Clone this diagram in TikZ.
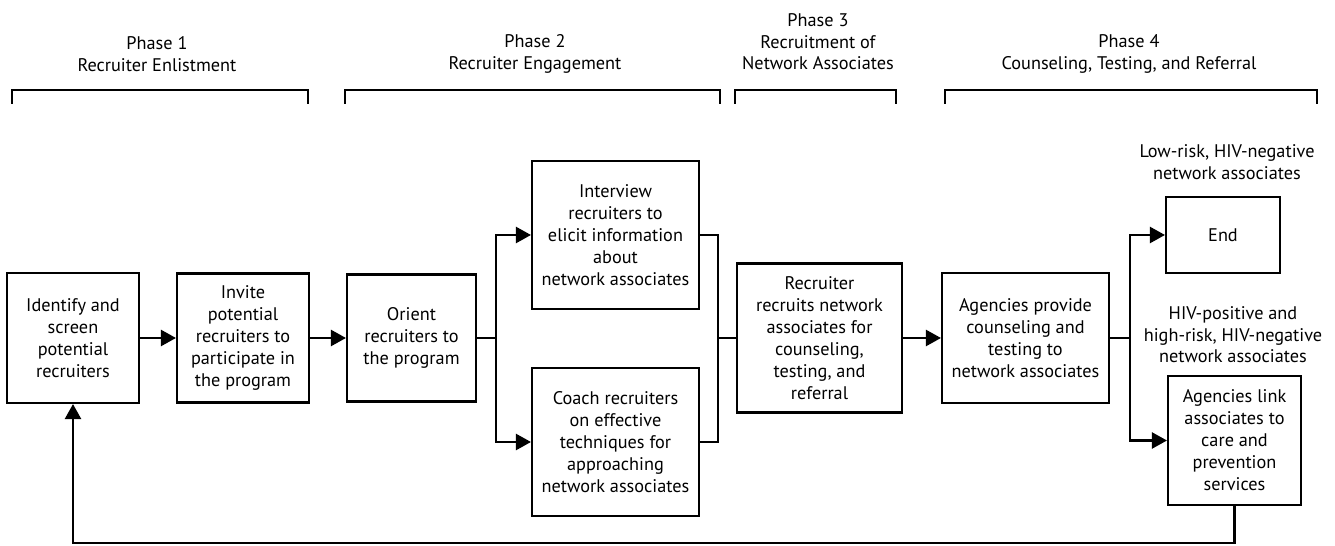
\documentclass[tikz,border=0pt]{standalone}
\usepackage{fontspec}
\setmainfont{PT Sans}
\usetikzlibrary{arrows.meta,positioning,calc}

\begin{document}
\begin{tikzpicture}[
    x=0.02cm,y=-0.02cm,
    taskbox/.style={draw,line width=1.2pt,align=center,inner sep=2pt,
                    font=\fontsize{10.4}{12.5}\selectfont},
    phasehead/.style={align=center,font=\fontsize{10.4}{12.3}\selectfont},
    note/.style={align=center,font=\fontsize{10.4}{12.3}\selectfont},
    flow/.style={line width=1.3pt},
    >={Triangle[length=3mm,width=3.2mm]}
  ]
  \useasboundingbox (0,0) rectangle (1335,546);

  % phase headings and brackets
  \node[phasehead] (ph1) at (157,54) {Phase 1\\Recruiter Enlistment};
  \node[phasehead] (ph2) at (535,54) {Phase 2\\Recruiter Engagement};
  \node[phasehead] (ph3) at (818,42) {Phase 3\\Recruitment of\\Network Associates};
  \node[phasehead] (ph4) at (1129,54) {Phase 4\\Counseling, Testing, and Referral};
  \draw[line width=1.2pt] (12,104) |- (308,90) -- (308,104);
  \draw[line width=1.2pt] (345,104) |- (720,90) -- (720,104);
  \draw[line width=1.2pt] (735,104) |- (896,90) -- (896,104);
  \draw[line width=1.2pt] (945,104) |- (1317,90) -- (1317,104);

  % steps
  \node[taskbox,minimum width=2.64cm,minimum height=2.6cm] (ident) at (73,338)
    {Identify and\\screen\\potential\\recruiters};
  \node[taskbox,minimum width=2.64cm,minimum height=2.58cm] (invite) at (243,338)
    {Invite\\potential\\recruiters to\\participate in\\the program};
  \node[taskbox,minimum width=2.58cm,minimum height=2.54cm] (orient) at (411.5,338)
    {Orient\\recruiters to\\the program};
  \node[taskbox,minimum width=3.34cm,minimum height=2.96cm] (interview) at (615.5,235)
    {Interview\\recruiters to\\elicit information\\about\\network associates};
  \node[taskbox,minimum width=3.34cm,minimum height=2.96cm] (coach) at (615.5,442)
    {Coach recruiters\\on effective\\techniques for\\approaching\\network associates};
  \node[taskbox,minimum width=3.3cm,minimum height=2.98cm] (recruits) at (819.5,338)
    {Recruiter\\recruits network\\associates for\\counseling,\\testing, and\\referral};
  \node[taskbox,minimum width=3.34cm,minimum height=2.6cm] (provide) at (1025.5,338)
    {Agencies provide\\counseling and\\testing to\\network associates};
  \node[taskbox,minimum width=2.28cm,minimum height=1.52cm] (endbox) at (1223,235)
    {End};
  \node[taskbox,minimum width=2.66cm,minimum height=2.58cm] (linkcare) at (1234.5,440.5)
    {Agencies link\\associates to\\care and\\prevention\\services};

  % outcome notes
  \node[note] (lowrisk) at (1227,162) {Low-risk, HIV-negative\\network associates};
  \node[note] (highrisk) at (1233,335) {HIV-positive and\\high-risk, HIV-negative\\network associates};

  % connectors
  \coordinate (fork) at (496,338);
  \coordinate (join) at (718,338);
  \coordinate (branch) at (1130,338);
  \coordinate (loopend) at (73,543);
  \draw[flow,->] (ident) -- (invite);
  \draw[flow,->] (invite) -- (orient);
  \draw[flow] (orient) -- (fork);
  \draw[flow,->] (fork) |- (interview);
  \draw[flow,->] (fork) |- (coach);
  \draw[flow] (interview) -| (join);
  \draw[flow] (coach) -| (join);
  \draw[flow] (join) -- (recruits);
  \draw[flow,->] (recruits) -- (provide);
  \draw[flow] (provide) -- (branch);
  \draw[flow,->] (branch) |- (endbox);
  \draw[flow,->] (branch) |- (linkcare);
  \draw[flow,->] (linkcare.south) |- (loopend) -- (ident.south);
\end{tikzpicture}
\end{document}
